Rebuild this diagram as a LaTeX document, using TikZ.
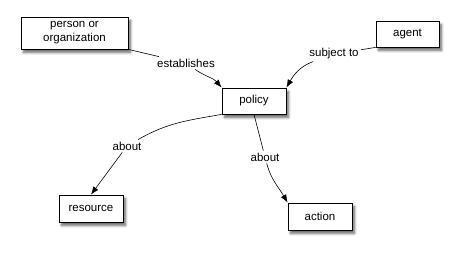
\documentclass[tikz,border=0pt]{standalone}
\usepackage{fontspec}
\setmainfont{Liberation Sans}
\usetikzlibrary{arrows.meta,shadows.blur}
\begin{document}
\begin{tikzpicture}[x=1pt,y=-1pt,font=\fontsize{11.5}{14}\selectfont]
\tikzstyle{boite} = [draw,line width=0.8pt,fill=white,inner sep=0pt,minimum height=26pt,minimum width=64pt,blur shadow={shadow xshift=2.5pt,shadow yshift=-3.5pt,shadow blur steps=6,shadow blur radius=2.5pt,shadow opacity=60}] %boîtes avec ombre
\tikzstyle{etiq} = [inner sep=2pt]
\tikzstyle{lien} = [line width=0.6pt]
\tikzstyle{fleche} = [lien,-{Latex[length=8pt,width=6pt]}]
\useasboundingbox (0,0) rectangle (459,254);
%boîtes
\node[boite,minimum width=107pt,minimum height=32pt,align=center] (personne) at (74.5,33) {person or\\organization};
\node[boite] (policy) at (254,101) {policy};
\node[boite,minimum width=63pt] (agent) at (407.5,34) {agent};
\node[boite,minimum height=27pt] (resource) at (91,208.5) {resource};
\node[boite,minimum height=27pt] (action) at (320,216.5) {action};
%étiquettes
\node[etiq] (etablit) at (186,63) {establishes};
\node[etiq] (soumis) at (334,54) {subject to};
\node[etiq] (sujet1) at (127,146) {about};
\node[etiq] (sujet2) at (265,157) {about};
%liens
\draw[lien] (personne.south east) -- (etablit);
\draw[fleche] (etablit) to[out=-35,in=130] (policy.north west);
\draw[lien] (agent.south west) -- (soumis);
\draw[fleche] (soumis) to[out=200,in=60] (policy.north east);
\draw[lien] (policy.south west) to[out=190,in=30] (sujet1);
\draw[fleche] (sujet1) -- (resource.north);
\draw[lien] (policy.south) -- (sujet2);
\draw[fleche] (sujet2) to[out=-75,in=120] (action.north west);
\end{tikzpicture}
\end{document}
